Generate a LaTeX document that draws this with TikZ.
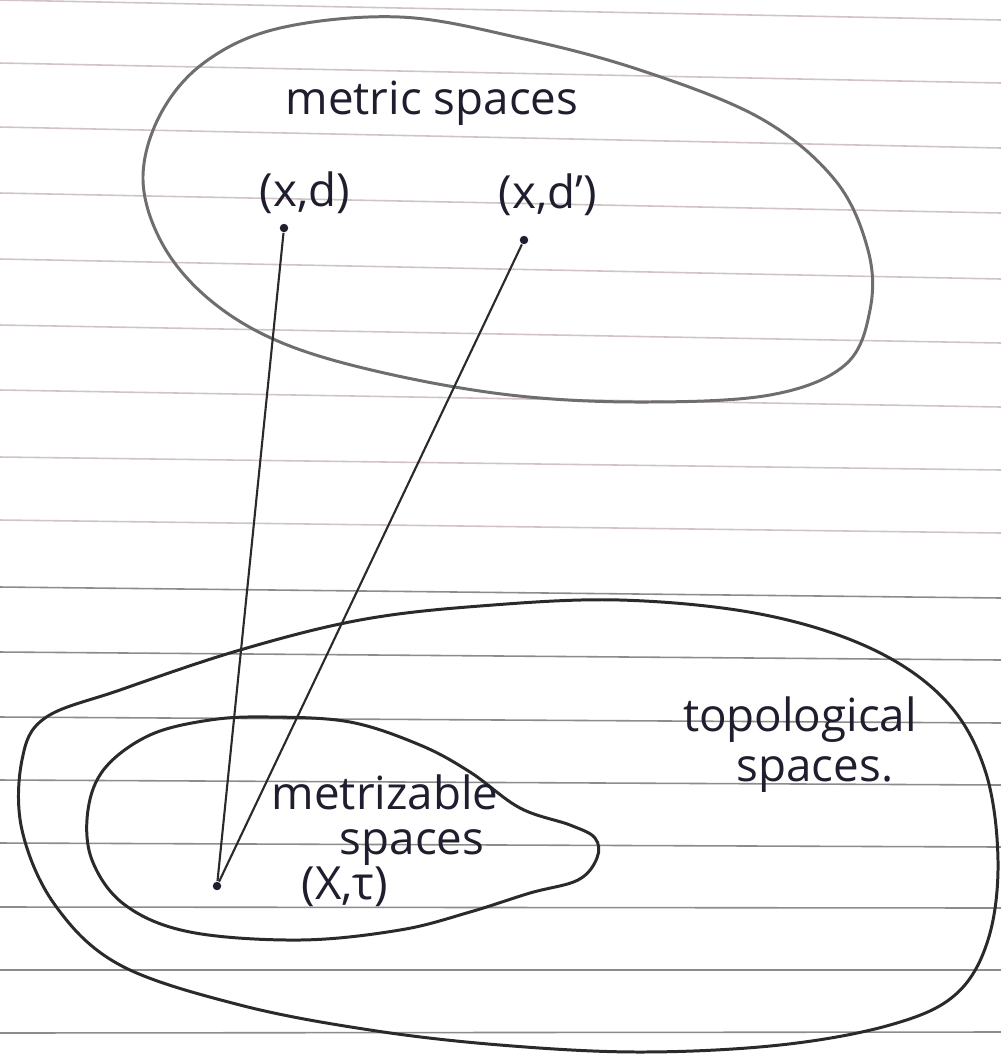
\documentclass[tikz,border=0pt]{standalone}
\usepackage{fontspec}
\setmainfont{Open Sans}
\definecolor{ink}{HTML}{1E1E2E}
\definecolor{pencil}{HTML}{6E6E6E}
\definecolor{pen}{HTML}{2A2A2A}
\definecolor{ruleup}{HTML}{D2C4C6}
\definecolor{rulelow}{HTML}{8C8C8C}
\begin{document}
\begin{tikzpicture}[x=0.01cm,y=-0.01cm,
  blob/.style={line width=0.85pt, draw=#1, line join=round},
  lbl/.style={font=\fontsize{13}{15}\selectfont, text=ink, inner sep=0pt},
  dotnode/.style={circle, fill=ink, inner sep=0pt, minimum size=2.4pt},
  link/.style={line width=0.6pt, draw=pen}]
\fill[white] (0,0) rectangle (1001,1059);
\useasboundingbox (0,0) rectangle (1001,1059);
% ruled paper
\foreach \yl/\yr in {0/20,63/83,127/148,193/213,259/279,325/343,390/407,457/470,520/533}
  \draw[ruleup, line width=0.45pt] (0,\yl) -- (1001,\yr);
\foreach \yl/\yr in {587/598,652/660,717/723,780/785,843/847,907/908,970/970,1033/1032}
  \draw[rulelow, line width=0.45pt] (0,\yl) -- (1001,\yr);
% metric spaces region
\draw[blob=pencil] plot[smooth cycle, tension=0.6] coordinates {
  (400,17) (520,38) (640,70) (760,118) (835,180) (868,250) (870,310) (845,365)
  (770,395) (640,402) (510,395) (380,372) (280,342) (210,300) (163,245) (143,180)
  (160,115) (205,62) (280,28)};
% topological spaces region
\draw[blob=pen] plot[smooth cycle, tension=0.6] coordinates {
  (480,606) (620,600) (760,614) (870,648) (945,700) (985,770) (998,860) (988,940)
  (955,995) (890,1025) (780,1045) (640,1052) (500,1045) (370,1030) (240,1005)
  (120,965) (55,905) (22,830) (22,760) (45,718) (120,690) (240,650) (360,620)};
% metrizable spaces region
\draw[blob=pen] plot[smooth cycle, tension=0.6] coordinates {
  (270,717) (350,722) (420,745) (470,772) (520,808) (570,825) (595,838) (597,858)
  (578,880) (530,893) (470,912) (400,930) (300,940) (190,932) (125,905) (92,860)
  (88,810) (105,768) (150,735) (210,720)};
% labels
\node[lbl] (metric) at (432,103) {metric spaces};
\node[lbl] (xd) at (305,193) {(x,d)};
\node[lbl] (xdp) at (548,195) {(x,d')};
\node[lbl] (topo1) at (800,720) {topological};
\node[lbl] (topo2) at (815,775) {spaces.};
\node[lbl] (metr1) at (385,792) {metrizable};
\node[lbl] (metr2) at (412,848) {spaces};
\node[lbl] (xt) at (345,887) {(X,τ)};
% points and connectors
\node[dotnode] (d1) at (284,228) {};
\node[dotnode] (d2) at (524,240) {};
\node[dotnode] (d3) at (217,886) {};
\draw[link] (d1) -- (d3);
\draw[link] (d2) -- (d3);
\end{tikzpicture}
\end{document}
